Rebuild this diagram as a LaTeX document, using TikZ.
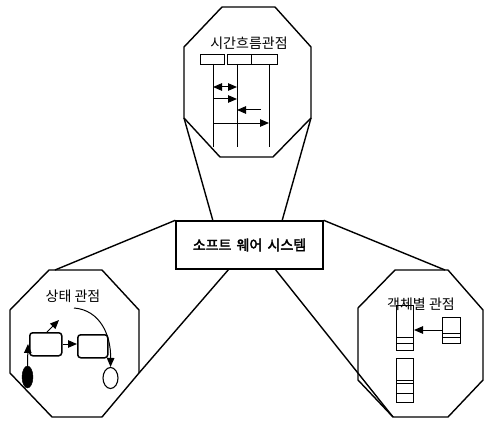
\documentclass[tikz,border=0pt]{standalone}
\usepackage{fontspec}
\newfontfamily\kr{Noto Sans CJK KR}
\newfontfamily\krb[FakeBold=2.5]{Noto Sans CJK KR}
\usetikzlibrary{arrows.meta,shapes.geometric}
\begin{document}
\begin{tikzpicture}[x=1pt,y=-1pt,
  frame/.style={draw, line width=1.4pt, line join=miter},
  link/.style={line width=1.4pt},
  lbl/.style={font=\kr\fontsize{14}{14}\selectfont, inner sep=0pt},
  thinline/.style={line width=1pt},
  obj/.style={draw, line width=1pt, inner sep=0pt, anchor=north west},
  msg/.style={line width=1pt, -{Triangle[length=9pt,width=7.5pt]}},
  st/.style={draw, line width=1.5pt, rounded corners=3pt, inner sep=0pt, anchor=north west}]
\useasboundingbox (0,0) rectangle (484,425);
\fill[white] (0,0) rectangle (484,425);

% ---------- top octagon ----------
\coordinate (t1) at (222,7);   \coordinate (t2) at (275,7);
\coordinate (t3) at (311,47);  \coordinate (t4) at (311,118);
\coordinate (t5) at (273,157); \coordinate (t6) at (220,157);
\coordinate (t7) at (184,118); \coordinate (t8) at (184,47);
\draw[frame] (t1)--(t2)--(t3)--(t4)--(t5)--(t6)--(t7)--(t8)--cycle;

% ---------- left octagon ----------
\coordinate (l1) at (49,270);  \coordinate (l2) at (102,270);
\coordinate (l3) at (139,310); \coordinate (l4) at (139,373);
\coordinate (l5) at (102,417); \coordinate (l6) at (52,417);
\coordinate (l7) at (10,373);  \coordinate (l8) at (10,310);
\draw[frame] (l1)--(l2)--(l3)--(l4)--(l5)--(l6)--(l7)--(l8)--cycle;

% ---------- right octagon ----------
\coordinate (r1) at (395,270); \coordinate (r2) at (448,270);
\coordinate (r3) at (483,310); \coordinate (r4) at (483,380);
\coordinate (r5) at (448,417); \coordinate (r6) at (393,417);
\coordinate (r7) at (358,380); \coordinate (r8) at (358,308);
\draw[frame] (r1)--(r2)--(r3)--(r4)--(r5)--(r6)--(r7)--(r8)--cycle;

% ---------- central box ----------
\node[draw, line width=1.4pt, minimum width=147pt, minimum height=48pt, inner sep=0pt]
  (sys) at (249.5,245) {\krb\fontsize{14}{14}\selectfont 소프트\hspace{2pt} 웨어\hspace{2pt} 시스템};

\coordinate (sysTL) at (213,221);
\coordinate (sysTR) at (282,221);
\coordinate (sysBL) at (229,269);
\coordinate (sysBR) at (275,269);
\coordinate (la) at (55,270);
\coordinate (ra) at (445,270);

\draw[link] (t7) -- (sysTL);
\draw[link] (t4) -- (sysTR);
\draw[link] (sys.north west) -- (la);
\draw[link] (sys.north east) -- (ra);
\draw[link] (sysBL) -- (l4);
\draw[link] (sysBR) -- (r6);

% ---------- top: sequence view ----------
\node[lbl] (ttl) at (249,43) {시간흐름관점};
\node[obj, minimum width=24pt, minimum height=10pt] (h1) at (200,54) {};
\node[obj, minimum width=24pt, minimum height=10pt] (h2) at (227,54) {};
\node[obj, minimum width=26pt, minimum height=10pt] (h3) at (251,54) {};
\coordinate (e1) at (213,147);
\coordinate (e2) at (237,147);
\coordinate (e3) at (269,147);
\draw[thinline] (213,64) -- (e1);
\draw[thinline] (237,64) -- (e2);
\draw[thinline] (269,64) -- (e3);
\coordinate (m1a) at (213,87);  \coordinate (m1b) at (237,87);
\coordinate (m2a) at (213,99);  \coordinate (m2b) at (237,99);
\coordinate (m3a) at (261,110); \coordinate (m3b) at (237,110);
\coordinate (m4a) at (213,123); \coordinate (m4b) at (269,123);
\draw[msg, {Triangle[length=9pt,width=7.5pt]}-{Triangle[length=9pt,width=7.5pt]}] (m1a) -- (m1b);
\draw[msg] (m2a) -- (m2b);
\draw[msg] (m3a) -- (m3b);
\draw[msg] (m4a) -- (m4b);

% ---------- left: state view ----------
\node[lbl] (stt) at (73,296) {상태 관점};
\node[st, minimum width=32pt, minimum height=23pt] (s1) at (29,332) {};
\node[st, minimum width=30pt, minimum height=23pt] (s2) at (77,334) {};
\node[fill=black, draw, ellipse, minimum width=11pt, minimum height=22pt, inner sep=0pt] (ini) at (27.5,377) {};
\node[draw, line width=1.1pt, ellipse, minimum width=15pt, minimum height=21pt, inner sep=0pt] (fin) at (110.5,378) {};
\coordinate (s1up) at (28,344);
\coordinate (d1) at (47,332); \coordinate (d2) at (59,320);
\coordinate (c0) at (74,308);
\draw[msg] (ini.north) -- (s1up);
\draw[msg] (s1.east |- 0,344) -- (s2.west |- 0,344);
\draw[msg] (d1) -- (d2);
\draw[msg] (c0) .. controls (100,310) and (111,335) .. (fin.north);

% ---------- right: object view ----------
\node[obj, minimum width=17pt, minimum height=45pt] (o1) at (396,305) {};
\draw[thinline] (396,337) -- (413,337) (396,343) -- (413,343);
\node[obj, minimum width=18pt, minimum height=26pt] (o2) at (442,317) {};
\draw[thinline] (442,333) -- (460,333) (442,337) -- (460,337);
\node[obj, minimum width=17pt, minimum height=44pt] (o3) at (396,358) {};
\draw[thinline] (396,380) -- (413,380) (396,383) -- (413,383) (396,393) -- (413,393);
\draw[msg] (o2.west |- 0,330) -- (o1.east |- 0,330);
\node[lbl] (obt) at (421,304) {객체별 관점};
\end{tikzpicture}
\end{document}
